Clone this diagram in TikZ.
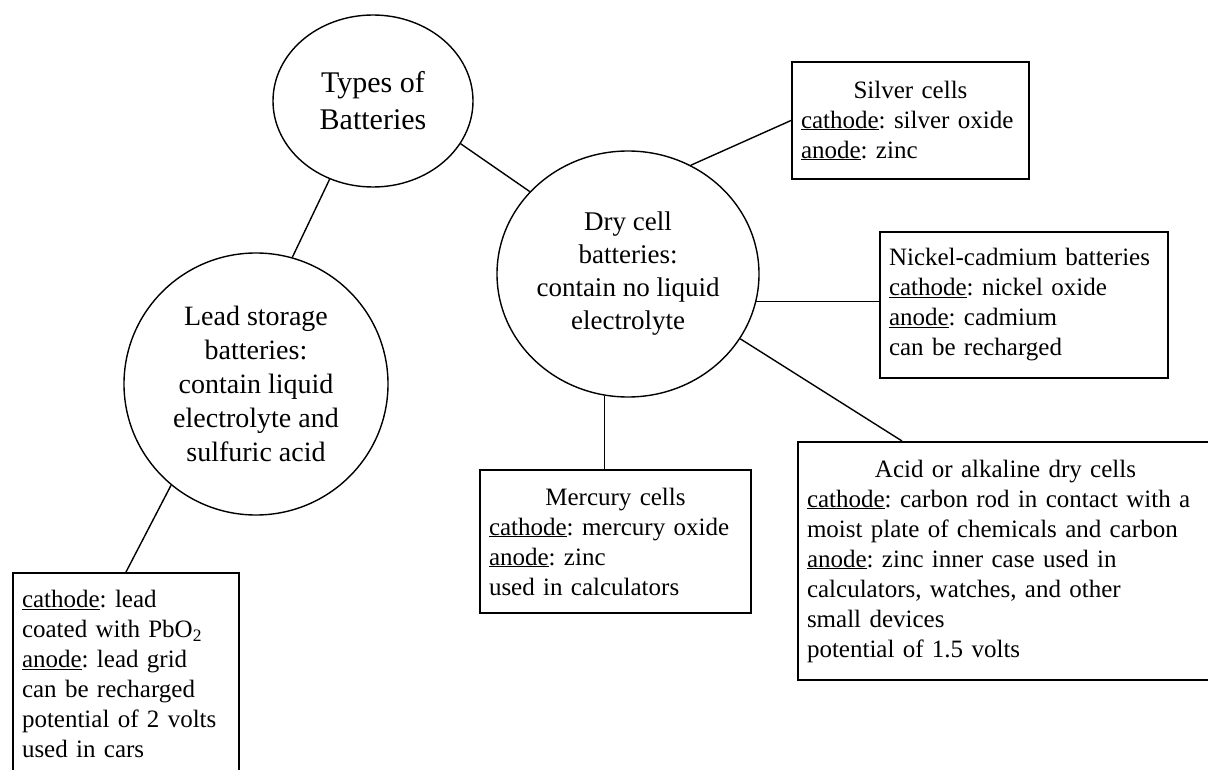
\documentclass[tikz,border=0pt]{standalone}
\usepackage{fontspec}
\setmainfont{Liberation Serif}
\usetikzlibrary{shapes}
\tikzset{
	oval/.style = {
		ellipse,
		draw=black,
		line width=1.4pt,
		inner sep=0pt,
		align=center
	},
	node_type/.style = {
		oval,
		font=\fontsize{30}{37}\selectfont,
		minimum width=200pt,
		minimum height=172pt
	},
	node_dry/.style = {
		oval,
		font=\fontsize{27}{33}\selectfont,
		minimum width=262pt,
		minimum height=246pt
	},
	node_lead/.style = {
		oval,
		font=\fontsize{28}{34}\selectfont,
		minimum width=264pt,
		minimum height=262pt
	},
	node_box/.style = {
		rectangle,
		draw=black,
		line width=2pt,
		anchor=north west,
		align=left,
		inner xsep=9pt,
		inner ysep=0pt,
		font=\fontsize{25}{30}\selectfont\frenchspacing,
		text width=#1
	},
	link/.style = {
		draw=black,
		line width=1.4pt
	}
}

\begin{document}
\begin{tikzpicture}[x=1pt,y=-1pt]
\useasboundingbox (0,0) rectangle (1208,770);
\clip (0,0) rectangle (1208,770);
\node [node_type] (types) at (373,101) {Types of\\Batteries};
\node [node_dry] (dry) at (628,274) {Dry cell\\batteries:\\contain no liquid\\electrolyte};
\node [node_lead] (lead) at (256,384) {Lead storage\\batteries:\\contain liquid\\electrolyte and\\sulfuric acid};
\node [node_box=219pt, minimum height=117pt] (silver) at (791,61) {
	\makebox[\linewidth]{Silver cells}\\
	\underline{cathode}: silver oxide\\
	\underline{anode}: zinc
};
\node [node_box=270pt, minimum height=146pt] (nicad) at (879,231) {
	Nickel-cadmium batteries\\
	\underline{cathode}: nickel oxide\\
	\underline{anode}: cadmium\\
	can be recharged
};
\node [node_box=253pt, minimum height=143pt] (mercury) at (479,469) {
	\makebox[\linewidth]{Mercury cells}\\
	\underline{cathode}: mercury oxide\\
	\underline{anode}: zinc\\
	used in calculators
};
\node [node_box=397pt, minimum height=238pt] (acid) at (797,441) {
	\makebox[\linewidth]{Acid or alkaline dry cells}\\
	\underline{cathode}: carbon rod in contact with a\\
	moist plate of chemicals and carbon\\
	\underline{anode}: zinc inner case used in\\
	calculators, watches, and other\\
	small devices\\
	potential of 1.5 volts
};
\node [node_box=208pt, minimum height=202pt] (leadbox) at (12,572) {
	\underline{cathode}: lead\\
	coated with PbO\textsubscript{2}\\
	\underline{anode}: lead grid\\
	can be recharged\\
	potential of 2 volts\\
	used in cars
};
\draw [link] (types.-26) -- (dry.140);
\draw [link] (types.241) -- (lead.74);
\draw [link] (lead.230) -- (leadbox.north);
\draw [link] (dry.60) -- (silver.west);
\draw [link] (dry.-12) -- (dry.-12 -| nicad.west);
\draw [link] (dry.-30) -- ([xshift=105pt]acid.north west);
\draw [link] (dry.-101) -- (dry.-101 |- mercury.north);
\end{tikzpicture}
\end{document}
